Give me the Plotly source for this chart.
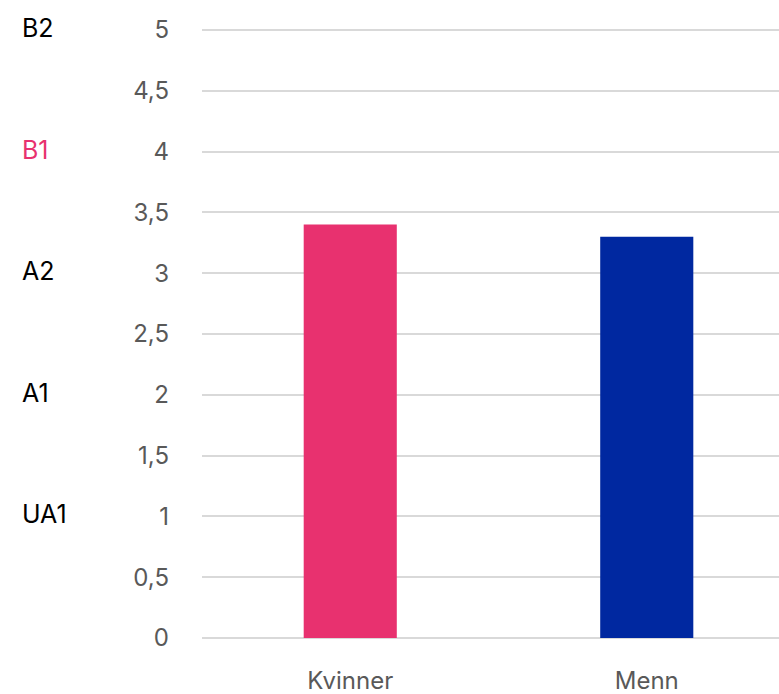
import plotly.graph_objects as go

categories = ["Kvinner", "Menn"]
values = [3.4, 3.3]
bar_colors = ["#E8316F", "#0028A0"]
level_labels = ["UA1", "A1", "A2", "B1", "B2"]
level_values = [1, 2, 3, 4, 5]
level_colors = ["#000000", "#000000", "#000000", "#E8316F", "#000000"]
tick_vals = [0, 0.5, 1, 1.5, 2, 2.5, 3, 3.5, 4, 4.5, 5]
tick_text = ["0", "0,5", "1", "1,5", "2", "2,5", "3", "3,5", "4", "4,5", "5"]

FONT = "Inter, Open Sans, sans-serif"
W, H = 779, 694
ml, mr, mt, mb = 202, 0, 28, 56

fig = go.Figure(go.Bar(x=categories, y=values, marker=dict(color=bar_colors, line=dict(width=0)), width=0.314))

plot_w = W - ml - mr
for lab, v, c in zip(level_labels, level_values, level_colors):
    fig.add_annotation(x=(20 - ml) / plot_w, xref="paper", xanchor="left", y=v, yref="y",
                       yshift=2, text=lab, showarrow=False, font=dict(family=FONT, size=25, color=c))

fig.update_layout(
    width=W, height=H, margin=dict(l=ml, r=mr, t=mt, b=mb, autoexpand=False),
    plot_bgcolor="white", paper_bgcolor="white", showlegend=False,
    font=dict(family=FONT, size=24, color="#595959"),
    xaxis=dict(range=[-0.5, 1.446], showgrid=False, zeroline=False, showline=False,
               ticks="", ticklabelstandoff=26, tickfont=dict(size=24, color="#595959")),
    yaxis=dict(range=[0, 5.0165], tickvals=tick_vals, ticktext=tick_text, showgrid=True,
               gridcolor="#D9D9D9", gridwidth=1.5, zeroline=True, zerolinecolor="#D9D9D9", zerolinewidth=2,
               showline=False, ticks="", ticklabelstandoff=32, tickfont=dict(size=24, color="#595959")),
)

fig.write_html("out.html", config={"displayModeBar": False},
               post_script="document.body.style.margin='0';document.body.style.overflow='hidden';")
